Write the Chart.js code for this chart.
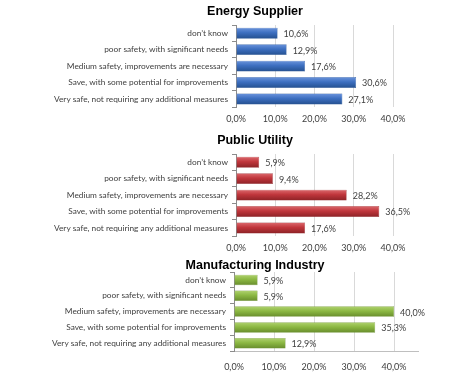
<!DOCTYPE html>
<html>
<head>
<meta charset="utf-8">
<script src="https://cdn.jsdelivr.net/npm/chart.js@4/dist/chart.umd.min.js"></script>
<style>
  body { margin: 0; background: #fff; }
  #wrap { position: relative; width: 472px; height: 373px; overflow: hidden; background: #fff; }
  .box { position: absolute; left: 38px; width: 434px; }
</style>
</head>
<body>
<div id="wrap">
  <div class="box" style="top:0px;height:130px"><canvas id="energyChart"></canvas></div>
  <div class="box" style="top:129px;height:130px"><canvas id="utilityChart"></canvas></div>
  <div class="box" style="top:254px;height:128px"><canvas id="industryChart"></canvas></div>
</div>
<script>
const categories = [
  'don\u2019t know',
  'poor safety, with significant needs',
  'Medium safety, improvements are necessary',
  'Save, with some potential for improvements',
  'Very safe, not requiring any additional measures'
];
const energyValues = [10.6, 12.9, 17.6, 30.6, 27.1];
const utilityValues = [5.9, 9.4, 28.2, 36.5, 17.6];
const industryValues = [5.9, 5.9, 40.0, 35.3, 12.9];
const xTicks = [0, 10, 20, 30, 40];

const textColor = '#404040';
const catFont = { family: 'Lato', size: 8.3 };
const labelFont = { family: 'Lato', size: 9 };

function fmt(v) {
  return v.toFixed(1).replace('.', ',') + '%';
}

// value labels right of each bar
const valueLabels = {
  id: 'valueLabels',
  afterDatasetsDraw(chart) {
    const ctx = chart.ctx;
    const meta = chart.getDatasetMeta(0);
    const data = chart.data.datasets[0].data;
    ctx.save();
    ctx.font = labelFont.size + 'px ' + labelFont.family;
    ctx.fillStyle = textColor;
    ctx.textAlign = 'left';
    ctx.textBaseline = 'middle';
    meta.data.forEach((bar, i) => {
      ctx.fillText(fmt(data[i]), bar.x + 6, bar.y + 1);
    });
    ctx.restore();
  }
};

// title centred over the whole canvas (chart.js centres it inside the layout padding)
const centerTitle = {
  id: 'centerTitle',
  afterDraw(chart, args, o) {
    const ctx = chart.ctx;
    ctx.save();
    ctx.font = 'bold 12.5px "Liberation Sans"';
    ctx.fillStyle = '#000';
    ctx.textAlign = 'center';
    ctx.textBaseline = 'middle';
    ctx.fillText(o.text, chart.width / 2, 12);
    ctx.restore();
  }
};

function makeChart(id, title, values, colors, opts) {
  const barPct = 0.66;
  return new Chart(document.getElementById(id), {
    type: 'bar',
    data: {
      labels: categories,
      datasets: [{
        data: values,
        backgroundColor: function (c) {
          const chart = c.chart;
          const ys = chart.scales.y;
          if (!chart.chartArea || !ys || c.dataIndex === undefined) return colors[1];
          const y = ys.getPixelForValue(c.dataIndex);
          const half = (ys.height / categories.length) * barPct / 2;
          const g = chart.ctx.createLinearGradient(0, y - half, 0, y + half);
          g.addColorStop(0, colors[0]);
          g.addColorStop(0.45, colors[1]);
          g.addColorStop(1, colors[2]);
          return g;
        },
        borderColor: colors[2],
        borderWidth: 0.5,
        barPercentage: barPct,
        categoryPercentage: 1.0
      }]
    },
    options: {
      indexAxis: 'y',
      responsive: true,
      maintainAspectRatio: false,
      animation: false,
      layout: { padding: { left: 0, right: opts.padRight, top: opts.padTop, bottom: 0 } },
      scales: {
        x: {
          min: 0,
          max: opts.max,
          afterBuildTicks: function (scale) {
            scale.ticks = xTicks.map(v => ({ value: v }));
          },
          grid: { color: '#d9d9d9', drawTicks: false },
          border: { display: opts.bottomLine, color: '#bfbfbf' },
          ticks: {
            padding: opts.tickPad,
            color: textColor,
            font: labelFont,
            maxRotation: 0,
            callback: v => fmt(v)
          }
        },
        y: {
          afterFit: function (scale) {
            scale.width = opts.yWidth;
          },
          grid: { drawOnChartArea: false, drawTicks: true, tickLength: 4, color: '#8c8c8c' },
          border: { display: true, color: '#8c8c8c' },
          ticks: {
            padding: 4,
            color: textColor,
            font: catFont
          }
        }
      },
      plugins: {
        legend: { display: false },
        tooltip: { enabled: false },
        title: { display: false },
        centerTitle: { text: title }
      }
    },
    plugins: [valueLabels, centerTitle]
  });
}

makeChart('energyChart', 'Energy Supplier', energyValues,
  ['#6b94dc', '#3d6fc0', '#24508f'],
  { max: 40, padRight: 79, padTop: 25, yWidth: 198, tickPad: 6, bottomLine: false });

makeChart('utilityChart', 'Public Utility', utilityValues,
  ['#dc6a6e', '#c0363c', '#8c2226'],
  { max: 40, padRight: 79, padTop: 25, yWidth: 198, tickPad: 6, bottomLine: false });

makeChart('industryChart', 'Manufacturing Industry', industryValues,
  ['#b0d270', '#8cb843', '#678c2c'],
  { max: 46, padRight: 54, padTop: 18, yWidth: 196, tickPad: 10, bottomLine: true });
</script>
</body>
</html>
